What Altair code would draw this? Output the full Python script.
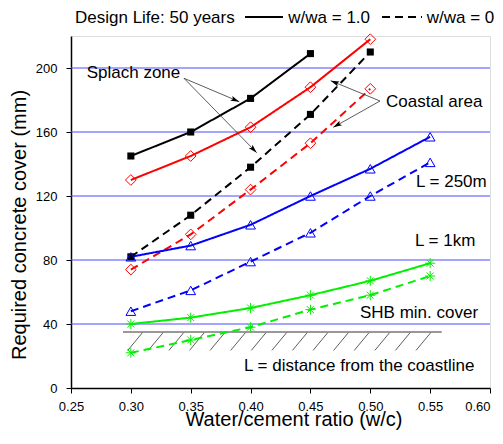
import math
import altair as alt
import pandas as pd

# ---------------- data ----------------
wc = [0.30, 0.35, 0.40, 0.45, 0.50, 0.55]
splash_full = [145, 160, 181, 209]
splash_zero = [82, 108, 138, 171, 210]
coastal_full = [130, 145, 163, 188, 218]
coastal_zero = [74, 96, 124, 153, 187]
l250_full = [82, 89, 102, 120, 137, 157]
l250_zero = [48, 61, 79, 97, 120, 141]
l1km_full = [40, 44, 50, 58, 67, 78]
l1km_zero = [22, 30, 38, 49, 58, 70]

grid_values = [40, 80, 120, 160, 200]
x_ticks = [round(0.25 + 0.025 * i, 3) for i in range(15)]
y_ticks = list(range(0, 221, 20))

series_defs = [
    ("splash", "1.0", splash_full), ("splash", "0", splash_zero),
    ("coastal", "1.0", coastal_full), ("coastal", "0", coastal_zero),
    ("l250", "1.0", l250_full), ("l250", "0", l250_zero),
    ("l1km", "1.0", l1km_full), ("l1km", "0", l1km_zero),
]
rows = []
for name, life, vals in series_defs:
    for x, v in zip(wc, vals):
        rows.append({"series": name, "life": life, "wc": x, "cover": v})
df = pd.DataFrame(rows)

series_domain = ["splash", "coastal", "l250", "l1km"]
series_colors = ["#000000", "#ff0000", "#0000ff", "#00f000"]

FONT = "Liberation Sans"
W, H = 419, 352

xscale = alt.Scale(domain=[0.25, 0.60], nice=False, zero=False)
yscale = alt.Scale(domain=[0, 220], nice=False)

x_axis = alt.Axis(
    values=x_ticks,
    labelExpr="round(datum.value*40) % 2 == 0 ? format(datum.value, '.2f') : ''",
    tickSize={"condition": {"test": "round(datum.value*40) % 2 == 1", "value": 3}, "value": 5},
    labelAlign={"condition": {"test": "datum.value > 0.59", "value": "right"}, "value": "center"},
    tickColor="black", tickWidth=1,
    domainColor="black", domainWidth=1.5,
    labelFontSize=13, labelFont=FONT, labelColor="black", labelPadding=7,
    labelFlush=False, labelOverlap=False,
    grid=False, title=None,
)
y_axis = alt.Axis(
    values=y_ticks,
    labelExpr="datum.value % 40 == 0 ? datum.label : ''",
    tickSize={"condition": {"test": "datum.value % 40 != 0", "value": 3}, "value": 5},
    tickColor="black", tickWidth=1,
    domainColor="black", domainWidth=1.5,
    labelFontSize=13, labelFont=FONT, labelColor="black", labelPadding=9,
    labelOverlap=False,
    grid=False, title=None,
)

base = alt.Chart(df)

# grid lines
grid = alt.Chart(pd.DataFrame({"g": grid_values})).mark_rule(
    color="#4d4dff", strokeWidth=1
).encode(y=alt.Y("g:Q", scale=yscale, axis=y_axis))

lines = base.mark_line(strokeWidth=2).encode(
    x=alt.X("wc:Q", scale=xscale, axis=x_axis),
    y=alt.Y("cover:Q", scale=yscale),
    color=alt.Color("series:N", scale=alt.Scale(domain=series_domain, range=series_colors), legend=None),
    strokeDash=alt.StrokeDash("life:N", scale=alt.Scale(domain=["1.0", "0"], range=[[1, 0], [8, 5]]), legend=None),
    detail="life:N",
)

def pts(name, **mk):
    return base.transform_filter(alt.datum.series == name).mark_point(opacity=1, **mk).encode(
        x=alt.X("wc:Q", scale=xscale), y=alt.Y("cover:Q", scale=yscale)
    )

asterisk = "M-1,0L1,0M0,-1L0,1M-0.7,-0.7L0.7,0.7M-0.7,0.7L0.7,-0.7"
p_splash = pts("splash", shape="square", filled=True, size=50, color="#000000")
p_coastal = pts("coastal", shape="diamond", filled=False, size=115, color="#ff0000", strokeWidth=1)
p_l250 = pts("l250", shape="triangle-up", filled=False, size=95, color="#0000ff", strokeWidth=1)
p_l1km = pts("l1km", shape=asterisk, filled=False, size=100, color="#00f000", strokeWidth=1)

# hatched boundary (decoration) under "SHB min. cover"
hatch_line = alt.Chart(pd.DataFrame({"a": [0.2934], "b": [0.5597], "y": [35]})).mark_rule(
    color="#333333", strokeWidth=1
).encode(x=alt.X("a:Q", scale=xscale), x2="b:Q", y=alt.Y("y:Q", scale=yscale))
hx = [0.3096 + 0.0172 * i for i in range(15)]
hatch = alt.Chart(pd.DataFrame({"a": hx, "b": [h - 0.0122 for h in hx], "y": [34.5] * 15, "y2": [23.5] * 15})).mark_rule(
    color="#333333", strokeWidth=0.8
).encode(x=alt.X("a:Q", scale=xscale), x2="b:Q", y=alt.Y("y:Q", scale=yscale), y2="y2:Q")

# arrows (plot pixel coordinates)
arrows = [
    (113, 42.3, 168.3, 65.7),
    (113, 42.3, 185.7, 116.7),
    (309, 65.0, 259.7, 44.7),
    (309, 65.0, 262.3, 91.3),
]
arr_df = pd.DataFrame([
    {"x1": a, "y1": b, "x2": c, "y2": d,
     "ang": math.degrees(math.atan2(c - a, -(d - b))) % 360}
    for a, b, c, d in arrows
])
arrow_lines = alt.Chart(arr_df).mark_rule(color="#333333", strokeWidth=0.8).encode(
    x=alt.X("x1:Q", scale=None), y=alt.Y("y1:Q", scale=None),
    x2="x2:Q", y2="y2:Q",
)
arrow_heads = alt.Chart(arr_df).mark_point(
    shape="M0,0L0.3,1L0,0.8L-0.3,1Z", filled=True, color="#000000", size=300, opacity=1
).encode(
    x=alt.X("x2:Q", scale=None), y=alt.Y("y2:Q", scale=None),
    angle=alt.Angle("ang:Q", scale=None),
)

# text annotations (plot pixel coordinates)
labels = pd.DataFrame([
    {"t": "Splach zone", "px": 15.7, "py": 42},
    {"t": "Coastal area", "px": 315, "py": 70.7},
    {"t": "L = 250m", "px": 345, "py": 150.7},
    {"t": "L = 1km", "px": 344, "py": 210},
    {"t": "SHB min. cover", "px": 289, "py": 282.3},
    {"t": "L = distance from the coastline", "px": 173, "py": 334.7},
    {"t": "Design Life: 50 years", "px": 4, "py": -13.3},
    {"t": "w/wa = 1.0", "px": 217.3, "py": -13.3},
    {"t": "w/wa = 0", "px": 355.7, "py": -13.3},
])
texts = alt.Chart(labels).mark_text(
    align="left", baseline="alphabetic", font=FONT, fontSize=17, color="#000000"
).encode(x=alt.X("px:Q", scale=None), y=alt.Y("py:Q", scale=None), text="t:N")

# axis titles as text marks
x_title = alt.Chart(pd.DataFrame({"t": ["Water/cement ratio (w/c)"], "px": [223], "py": [390]})).mark_text(
    align="center", baseline="alphabetic", font=FONT, fontSize=20, color="#000000"
).encode(x=alt.X("px:Q", scale=None), y=alt.Y("py:Q", scale=None), text="t:N")
y_title = alt.Chart(pd.DataFrame({"t": ["Required concrete cover (mm)"], "px": [-45.5], "py": [189]})).mark_text(
    align="center", baseline="alphabetic", font=FONT, fontSize=20, color="#000000", angle=270
).encode(x=alt.X("px:Q", scale=None), y=alt.Y("py:Q", scale=None), text="t:N")

leg_df = pd.DataFrame([
    {"x1": 174, "x2": 212, "y": -19, "life": "1.0"},
    {"x1": 311, "x2": 351, "y": -19, "life": "0"},
])
leg_lines = alt.Chart(leg_df).mark_rule(color="#000000", strokeWidth=2).encode(
    x=alt.X("x1:Q", scale=None), x2="x2:Q", y=alt.Y("y:Q", scale=None),
    strokeDash=alt.StrokeDash("life:N", scale=alt.Scale(domain=["1.0", "0"], range=[[1, 0], [8, 5]]), legend=None),
)

chart = alt.layer(
    grid, hatch_line, hatch, lines, p_splash, p_coastal, p_l250, p_l1km,
    arrow_lines, arrow_heads, texts, x_title, y_title, leg_lines,
).properties(
    width=W, height=H,
    autosize=alt.AutoSizeParams(type="none"),
    padding={"left": 63, "top": 28, "right": 5, "bottom": 42},
).configure_view(stroke="#222222", strokeWidth=1.5).configure(font=FONT, background="white")

chart.save("out.html", embed_options={"renderer": "svg", "actions": False})
